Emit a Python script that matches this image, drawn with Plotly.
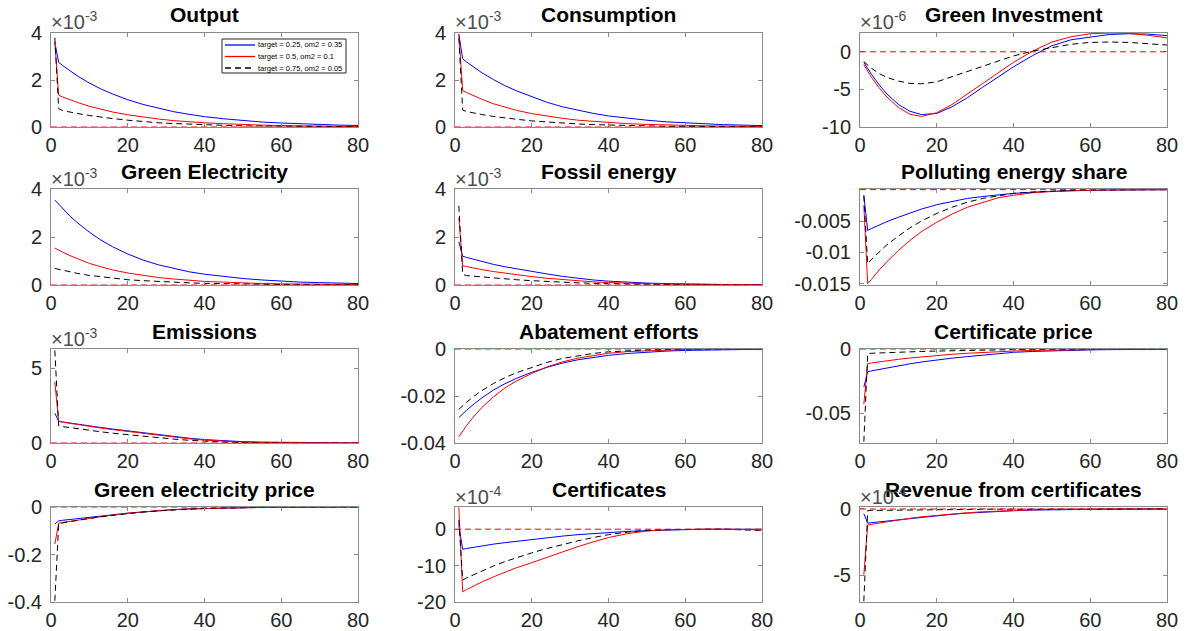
import plotly.graph_objects as go

# ---------------- data (values as displayed on each panel's axis) ----------------
periods = [1, 2, 3, 5, 7, 10, 13, 16, 20, 24, 28, 32, 36, 40, 45, 50, 55, 60, 65, 70, 75, 80]

series_names = ["target = 0.25, om2 = 0.35", "target = 0.5, om2 = 0.1", "target = 0.75, om2 = 0.05"]

panel_titles = ["Output", "Consumption", "Green Investment",
                "Green Electricity", "Fossil energy", "Polluting energy share",
                "Emissions", "Abatement efforts", "Certificate price",
                "Green electricity price", "Certificates", "Revenue from certificates"]

# Output (x1e-3)
output_a = [3.6, 2.75, 2.62, 2.38, 2.16, 1.87, 1.62, 1.41, 1.16, 0.96, 0.79, 0.65, 0.54, 0.44, 0.35, 0.27, 0.21, 0.17, 0.13, 0.10, 0.08, 0.065]
output_b = [3.6, 1.35, 1.28, 1.15, 1.04, 0.88, 0.75, 0.64, 0.52, 0.42, 0.34, 0.27, 0.22, 0.18, 0.14, 0.10, 0.08, 0.06, 0.05, 0.04, 0.03, 0.02]
output_c = [3.8, 0.78, 0.70, 0.63, 0.57, 0.49, 0.42, 0.36, 0.29, 0.23, 0.18, 0.15, 0.12, 0.09, 0.07, 0.05, 0.04, 0.03, 0.02, 0.015, 0.01, 0.01]
# Consumption (x1e-3)
cons_a = [3.95, 2.9, 2.77, 2.53, 2.31, 2.02, 1.76, 1.54, 1.28, 1.05, 0.86, 0.71, 0.58, 0.47, 0.37, 0.29, 0.22, 0.17, 0.13, 0.10, 0.08, 0.06]
cons_b = [3.95, 1.55, 1.47, 1.31, 1.18, 0.99, 0.84, 0.71, 0.57, 0.46, 0.37, 0.29, 0.24, 0.19, 0.14, 0.11, 0.08, 0.06, 0.05, 0.04, 0.03, 0.02]
cons_c = [3.8, 0.72, 0.66, 0.59, 0.53, 0.45, 0.38, 0.33, 0.26, 0.21, 0.17, 0.13, 0.10, 0.08, 0.06, 0.05, 0.03, 0.03, 0.02, 0.01, 0.01, 0.01]
# Green Investment (x1e-6)
ginv_a = [-1.4, -2.2, -3.0, -4.4, -5.6, -7.0, -7.9, -8.35, -8.2, -7.3, -6.1, -4.7, -3.3, -2.0, -0.5, 0.8, 1.6, 2.0, 2.3, 2.4, 2.35, 2.15]
ginv_b = [-1.7, -2.6, -3.4, -4.8, -6.0, -7.4, -8.3, -8.6, -8.1, -7.0, -5.6, -4.1, -2.7, -1.4, 0.1, 1.3, 2.0, 2.4, 2.5, 2.45, 2.2, 1.85]
ginv_c = [-1.3, -1.8, -2.2, -2.9, -3.4, -3.9, -4.2, -4.25, -4.0, -3.3, -2.6, -1.9, -1.2, -0.55, 0.1, 0.6, 1.0, 1.25, 1.3, 1.25, 1.1, 0.9]
# Green Electricity (x1e-3)
gel_a = [3.54, 3.36, 3.18, 2.86, 2.58, 2.20, 1.87, 1.60, 1.29, 1.04, 0.84, 0.68, 0.55, 0.45, 0.35, 0.27, 0.21, 0.16, 0.12, 0.10, 0.08, 0.06]
gel_b = [1.54, 1.45, 1.37, 1.22, 1.08, 0.90, 0.76, 0.63, 0.50, 0.40, 0.31, 0.25, 0.20, 0.15, 0.12, 0.08, 0.06, 0.05, 0.04, 0.03, 0.02, 0.015]
gel_c = [0.69, 0.65, 0.61, 0.54, 0.48, 0.40, 0.34, 0.28, 0.22, 0.18, 0.14, 0.11, 0.09, 0.07, 0.05, 0.04, 0.03, 0.02, 0.015, 0.01, 0.01, 0.01]
# Fossil energy (x1e-3)
fos_a = [1.8, 1.2, 1.15, 1.06, 0.97, 0.86, 0.76, 0.67, 0.56, 0.46, 0.36, 0.28, 0.21, 0.16, 0.11, 0.08, 0.06, 0.04, 0.03, 0.02, 0.015, 0.01]
fos_b = [2.8, 0.8, 0.77, 0.70, 0.64, 0.56, 0.49, 0.42, 0.35, 0.28, 0.22, 0.17, 0.13, 0.10, 0.07, 0.05, 0.04, 0.03, 0.02, 0.015, 0.01, 0.01]
fos_c = [3.3, 0.45, 0.39, 0.36, 0.33, 0.29, 0.25, 0.22, 0.18, 0.14, 0.11, 0.09, 0.07, 0.05, 0.04, 0.03, 0.02, 0.015, 0.01, 0.01, 0.005, 0.005]
# Polluting energy share
pol_a = [-0.0009, -0.0065, -0.0062, -0.0056, -0.0051, -0.0044, -0.0037, -0.0031, -0.0024, -0.0019, -0.0014, -0.0011, -0.0008, -0.0006, -0.0004, -0.00025, -0.00016, -0.0001, -0.00006, -0.00004, -0.00002, -0.00001]
pol_b = [-0.0025, -0.0150, -0.0143, -0.0128, -0.0115, -0.0097, -0.0081, -0.0067, -0.0052, -0.0039, -0.0028, -0.0020, -0.0013, -0.0009, -0.0005, -0.0003, -0.00015, -0.0001, -0.00005, -0.00003, -0.00001, 0.0]
pol_c = [-0.001, -0.0118, -0.0111, -0.0099, -0.0088, -0.0074, -0.0061, -0.0050, -0.0038, -0.0028, -0.0020, -0.0014, -0.0010, -0.0006, -0.0004, -0.0002, -0.0001, -0.00005, 0.0, 0.0, 0.0, 0.0]
# Emissions (x1e-3)
emi_a = [2.0, 1.45, 1.41, 1.33, 1.25, 1.14, 1.04, 0.94, 0.81, 0.68, 0.55, 0.43, 0.32, 0.23, 0.14, 0.09, 0.06, 0.04, 0.02, 0.01, 0.0, 0.0]
emi_b = [4.1, 1.45, 1.40, 1.31, 1.23, 1.11, 1.00, 0.90, 0.77, 0.64, 0.51, 0.39, 0.28, 0.19, 0.11, 0.06, 0.03, 0.01, 0.0, 0.0, 0.0, 0.0]
emi_c = [6.2, 1.15, 1.10, 1.02, 0.94, 0.84, 0.75, 0.66, 0.55, 0.45, 0.35, 0.26, 0.18, 0.12, 0.06, 0.03, 0.01, 0.0, 0.0, 0.0, 0.0, 0.0]
# Abatement efforts
aba_a = [-0.0292, -0.0276, -0.0261, -0.0233, -0.0208, -0.0175, -0.0148, -0.0125, -0.0099, -0.0078, -0.0060, -0.0046, -0.0035, -0.0027, -0.0019, -0.0013, -0.0009, -0.0006, -0.0004, -0.0003, -0.0002, -0.0001]
aba_b = [-0.0373, -0.0349, -0.0326, -0.0285, -0.0249, -0.0204, -0.0166, -0.0136, -0.0104, -0.0076, -0.0055, -0.0039, -0.0027, -0.0018, -0.0011, -0.0007, -0.0004, -0.0002, -0.0001, -0.0001, 0.0, 0.0]
aba_c = [-0.0257, -0.0241, -0.0227, -0.0200, -0.0177, -0.0147, -0.0122, -0.0101, -0.0079, -0.0057, -0.0040, -0.0028, -0.0019, -0.0012, -0.0007, -0.0004, -0.0002, -0.0001, 0.0, 0.0, 0.0, 0.0]
# Certificate price
cpr_a = [-0.0295, -0.0177, -0.0170, -0.0158, -0.0146, -0.0130, -0.0115, -0.0101, -0.0085, -0.0071, -0.0059, -0.0048, -0.0039, -0.0026, -0.0019, -0.0014, -0.0010, -0.0007, -0.0005, -0.0003, -0.0002, -0.0001]
cpr_b = [-0.043, -0.0113, -0.0108, -0.0099, -0.0091, -0.0080, -0.0070, -0.0061, -0.0050, -0.0041, -0.0033, -0.0026, -0.0021, -0.0016, -0.0011, -0.0008, -0.0005, -0.0003, -0.0002, -0.0001, -0.0001, 0.0]
cpr_c = [-0.072, -0.0035, -0.0033, -0.0030, -0.0028, -0.0025, -0.0022, -0.0019, -0.0016, -0.0013, -0.0010, -0.0008, -0.0006, -0.0005, -0.0003, -0.0002, -0.0001, -0.0001, 0.0, 0.0, 0.0, 0.0]
# Green electricity price
gpr_a = [-0.072, -0.058, -0.056, -0.052, -0.048, -0.043, -0.038, -0.033, -0.026, -0.020, -0.015, -0.011, -0.008, -0.006, -0.004, -0.0025, -0.0015, -0.001, -0.0006, -0.0004, -0.0002, -0.0001]
gpr_b = [-0.156, -0.068, -0.065, -0.060, -0.055, -0.047, -0.040, -0.034, -0.026, -0.020, -0.015, -0.011, -0.008, -0.006, -0.004, -0.0025, -0.0015, -0.001, -0.0005, -0.0003, -0.0002, -0.0001]
gpr_c = [-0.395, -0.070, -0.067, -0.061, -0.056, -0.048, -0.041, -0.035, -0.027, -0.021, -0.016, -0.012, -0.009, -0.006, -0.004, -0.0025, -0.0015, -0.001, -0.0005, -0.0003, -0.0002, -0.0001]
# Certificates (x1e-4)
cer_a = [1.0, -5.5, -5.3, -4.9, -4.6, -4.1, -3.7, -3.3, -2.8, -2.3, -1.9, -1.5, -1.2, -0.9, -0.6, -0.4, -0.2, -0.1, 0.0, 0.0, 0.0, 0.0]
cer_b = [6.0, -17.2, -16.6, -15.5, -14.5, -13.1, -11.8, -10.6, -9.2, -7.7, -6.2, -4.8, -3.5, -2.3, -1.2, -0.5, -0.15, 0.0, 0.0, 0.0, -0.1, -0.2]
cer_c = [2.5, -14.0, -13.4, -12.4, -11.4, -10.1, -8.9, -7.8, -6.5, -5.3, -4.2, -3.2, -2.3, -1.5, -0.8, -0.3, -0.1, 0.0, 0.0, 0.0, -0.2, -0.3]
# Revenue from certificates (x1e-4)
rev_a = [-0.35, -1.07, -1.03, -0.97, -0.90, -0.80, -0.70, -0.61, -0.50, -0.40, -0.31, -0.24, -0.18, -0.13, -0.08, -0.05, -0.03, -0.02, -0.01, 0.0, 0.0, 0.0]
rev_b = [-4.95, -1.20, -1.15, -1.05, -0.95, -0.82, -0.70, -0.59, -0.47, -0.37, -0.28, -0.21, -0.15, -0.10, -0.06, -0.03, -0.02, -0.01, 0.0, 0.0, 0.0, 0.0]
rev_c = [-6.95, -0.12, -0.11, -0.10, -0.09, -0.08, -0.07, -0.06, -0.05, -0.04, -0.03, -0.02, -0.015, -0.01, -0.005, 0.0, 0.0, 0.0, 0.0, 0.0, 0.0, 0.0]

panel_data = [
    (output_a, output_b, output_c), (cons_a, cons_b, cons_c), (ginv_a, ginv_b, ginv_c),
    (gel_a, gel_b, gel_c), (fos_a, fos_b, fos_c), (pol_a, pol_b, pol_c),
    (emi_a, emi_b, emi_c), (aba_a, aba_b, aba_c), (cpr_a, cpr_b, cpr_c),
    (gpr_a, gpr_b, gpr_c), (cer_a, cer_b, cer_c), (rev_a, rev_b, rev_c),
]

exponent_labels = ["-3", "-3", "-6", "-3", "-3", None, "-3", None, None, None, "-4", "-4"]

y_ranges = [[0, 4], [0, 4], [-10, 2.5], [0, 4], [0, 4], [-0.0152, 0.0001],
            [0, 6.3], [-0.04, 0], [-0.073, 0], [-0.4, 0], [-20, 6.1], [-7, 0.15]]
y_tickvals = [[0, 2, 4], [0, 2, 4], [-10, -5, 0], [0, 2, 4], [0, 2, 4], [-0.015, -0.01, -0.005],
              [0, 5], [-0.04, -0.02, 0], [-0.05, 0], [-0.4, -0.2, 0], [-20, -10, 0], [-5, 0]]
y_ticktext = [["0", "2", "4"], ["0", "2", "4"], ["-10", "-5", "0"], ["0", "2", "4"], ["0", "2", "4"],
              ["-0.015", "-0.01", "-0.005"], ["0", "5"], ["-0.04", "-0.02", "0"], ["-0.05", "0"],
              ["-0.4", "-0.2", "0"], ["-20", "-10", "0"], ["-5", "0"]]
x_tickvals = [0, 20, 40, 60, 80]

# ---------------- styling ----------------
W, H = 1191, 631
col_px = [(51, 358), (455, 762), (860, 1167)]
row_px = [(33, 127), (189, 285), (349, 443), (507, 602)]
line_colors = ["#0000ff", "#ff0000", "#000000"]
line_dash = ["solid", "solid", "6px,4px"]
FONT = "Arial, 'Liberation Sans', Helvetica, sans-serif"
AXIS_COL = "#8a8a8a"

fig = go.Figure()
layout_axes = {}
annotations = []
shapes = []

for i, (title, series) in enumerate(zip(panel_titles, panel_data)):
    r, c = divmod(i, 3)
    x0, x1 = col_px[c]
    yt, yb = row_px[r]
    n = "" if i == 0 else str(i + 1)
    xref, yref = "x" + n, "y" + n
    for k, ys in enumerate(series):
        fig.add_trace(go.Scatter(
            x=periods, y=ys, mode="lines", name=series_names[k],
            line=dict(color=line_colors[k], width=1, dash=line_dash[k]),
            xaxis=xref, yaxis=yref, showlegend=False,
        ))
    common = dict(showgrid=False, zeroline=False, showline=True, linecolor=AXIS_COL, linewidth=1,
                  mirror="allticks", ticks="inside", ticklen=4, tickcolor=AXIS_COL, tickwidth=1,
                  automargin=False,
                  tickfont=dict(family=FONT, size=20, color="#262626"))
    layout_axes["xaxis" + n] = dict(domain=[x0 / W, x1 / W], anchor=yref, range=[0, 80],
                                    tickmode="array", tickvals=x_tickvals, ticklabelstandoff=0,
                                    ticktext=[str(v) for v in x_tickvals], **common)
    layout_axes["yaxis" + n] = dict(domain=[1 - yb / H, 1 - yt / H], anchor=xref, range=y_ranges[i],
                                    tickmode="array", tickvals=y_tickvals[i], ticktext=y_ticktext[i],
                                    ticklabelstandoff=4, **common)
    # steady-state zero line
    shapes.append(dict(type="line", xref=xref + " domain", yref=yref, x0=0, x1=1, y0=0, y1=0,
                       line=dict(color="#ff0000", width=1, dash="6px,4px"), layer="above"))
    annotations.append(dict(text="<b>" + title + "</b>", xref="paper", yref="paper",
                            x=(x0 + x1) / 2 / W, y=1 - (yt - 18) / H, xanchor="center", yanchor="middle",
                            showarrow=False, font=dict(family=FONT, size=21, color="#000000")))
    if exponent_labels[i]:
        annotations.append(dict(text="\u00d710<sup>" + exponent_labels[i] + "</sup>", xref="paper", yref="paper",
                                x=(x0 - 2) / W, y=1 - (yt - 12) / H, xanchor="left", yanchor="middle",
                                showarrow=False, font=dict(family=FONT, size=20, color="#4d4d4d")))

# legend box of the first panel (MATLAB-style, compact)
LEG_L, LEG_R, LEG_T, LEG_B = 222, 346, 39, 73
shapes.append(dict(type="rect", xref="paper", yref="paper",
                   x0=LEG_L / W, x1=LEG_R / W, y0=1 - LEG_B / H, y1=1 - LEG_T / H,
                   line=dict(color="#262626", width=1), fillcolor="white", layer="above"))
for k, name in enumerate(series_names):
    yc = 45 + k * 11.5
    shapes.append(dict(type="line", xref="paper", yref="paper",
                       x0=225 / W, x1=255 / W, y0=1 - yc / H, y1=1 - yc / H,
                       line=dict(color=line_colors[k], width=1.3, dash=line_dash[k]), layer="above"))
    annotations.append(dict(text=name, xref="paper", yref="paper", x=256 / W, y=1 - yc / H,
                            xanchor="left", yanchor="middle", showarrow=False,
                            font=dict(family=FONT, size=7.5, color="#000000")))

fig.update_layout(
    width=W, height=H, margin=dict(l=0, r=0, t=0, b=0),
    paper_bgcolor="white", plot_bgcolor="white",
    showlegend=False,
    annotations=annotations, shapes=shapes,
    **layout_axes,
)

fig.write_html("out.html", config={"displayModeBar": False},
               post_script="document.body.style.margin='0';document.body.style.padding='0';"
                           "document.documentElement.style.overflow='hidden';")
